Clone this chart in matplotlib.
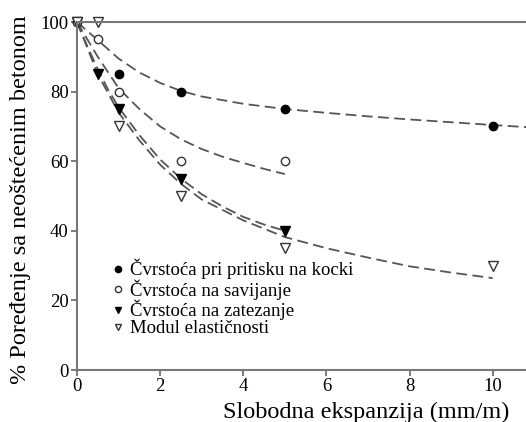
import matplotlib
matplotlib.use("Agg")
import matplotlib.pyplot as plt

plt.rcParams['font.family'] = ['Liberation Serif', 'DejaVu Serif']

# measured points
x_pritisak = [0, 1, 2.5, 5, 10]
y_pritisak = [100, 85, 80, 75, 70]
x_savijanje = [0, 0.5, 1, 2.5, 5]
y_savijanje = [100, 95, 80, 60, 60]
x_zatezanje = [0, 0.5, 1, 2.5, 5]
y_zatezanje = [100, 85, 75, 55, 40]
x_modul = [0, 0.5, 1, 2.5, 5, 10]
y_modul = [100, 100, 70, 50, 35, 30]

# dashed trend curves
kx_pritisak = [0, 0.5, 1, 1.5, 2, 2.5, 3, 4, 5, 6, 7, 8, 9, 10, 10.8]
ky_pritisak = [100, 94.8, 89.5, 85.5, 82.5, 80.2, 78.6, 76.5, 75, 73.9, 72.9, 72, 71.2, 70.4, 69.8]
kx_savijanje = [0, 0.5, 1, 1.5, 2, 2.5, 3, 3.5, 4, 4.5, 5]
ky_savijanje = [100, 90, 81, 75, 70, 66.3, 63.5, 61.3, 59.5, 57.8, 56.3]
kx_zatezanje = [0, 0.25, 0.5, 0.75, 1, 1.5, 2, 2.5, 3, 3.5, 4, 4.5, 5]
ky_zatezanje = [100, 93, 86.5, 80.5, 75.5, 67.5, 60.5, 55, 50.5, 47, 44, 41.8, 40]
kx_modul = [0, 0.5, 1, 1.5, 2, 2.5, 3, 4, 5, 6, 7, 8, 9, 10]
ky_modul = [100, 85, 74, 66, 59, 53.5, 49, 43, 38.2, 35, 32.3, 29.8, 28, 26.4]

labele = ["Čvrstoća pri pritisku na kocki", "Čvrstoća na savijanje",
          "Čvrstoća na zatezanje", "Modul elastičnosti"]

fig = plt.figure(figsize=(5.26, 4.22), dpi=100)
ax = fig.add_axes([0.1464, 0.1232, 0.8536, 0.8246])

crta = dict(color="#555555", linestyle=(0, (6, 3)), linewidth=1.3)
ax.plot(kx_pritisak, ky_pritisak, **crta)
ax.plot(kx_savijanje, ky_savijanje, **crta)
ax.plot(kx_zatezanje, ky_zatezanje, **crta)
ax.plot(kx_modul, ky_modul, **crta)

ax.plot(x_pritisak, y_pritisak, "o", color="black", markersize=6, linestyle="none")
ax.plot(x_savijanje, y_savijanje, "o", markerfacecolor="white", markeredgecolor="#333333",
        markersize=6, markeredgewidth=1.0, linestyle="none")
ax.plot(x_zatezanje, y_zatezanje, "v", color="black", markersize=6.5, linestyle="none")
ax.plot(x_modul, y_modul, "v", markerfacecolor="white", markeredgecolor="#333333",
        markersize=6.5, markeredgewidth=1.0, linestyle="none")

# legenda rucno (markeri manji nego na grafu)
h1, = ax.plot([], [], "o", color="black", markersize=4.5, linestyle="none")
h2, = ax.plot([], [], "o", markerfacecolor="white", markeredgecolor="#333333", markersize=4.5, linestyle="none")
h3, = ax.plot([], [], "v", color="black", markersize=5, linestyle="none")
h4, = ax.plot([], [], "v", markerfacecolor="white", markeredgecolor="#333333", markersize=5, linestyle="none")
ax.legend([h1, h2, h3, h4], labele, loc="upper left", bbox_to_anchor=(0.055, 0.347),
          frameon=False, fontsize=13.5, handlelength=0.7, handletextpad=0.3,
          labelspacing=0.0, borderpad=0)

ax.set_xlim(0, 10.8)
ax.set_ylim(0, 100)
ax.set_xticks([0, 2, 4, 6, 8, 10])
ax.set_yticks([0, 20, 40, 60, 80, 100])
ax.tick_params(labelsize=13.5, direction="out", length=4, color="#666666", width=1.2, pad=2)

for s in ["left", "bottom", "top"]:
    ax.spines[s].set_color("#777777")
    ax.spines[s].set_linewidth(1.5)
ax.spines["right"].set_visible(False)

ax.set_xlabel("Slobodna ekspanzija (mm/m)", fontsize=17.5)
ax.xaxis.set_label_coords(0.645, -0.09)
ax.set_ylabel("% Poređenje sa neoštećenim betonom", fontsize=17.5)
ax.yaxis.set_label_coords(-0.102, 0.49)

for m in ax.lines:
    m.set_clip_on(False)

fig.savefig("out.png", dpi=100)
